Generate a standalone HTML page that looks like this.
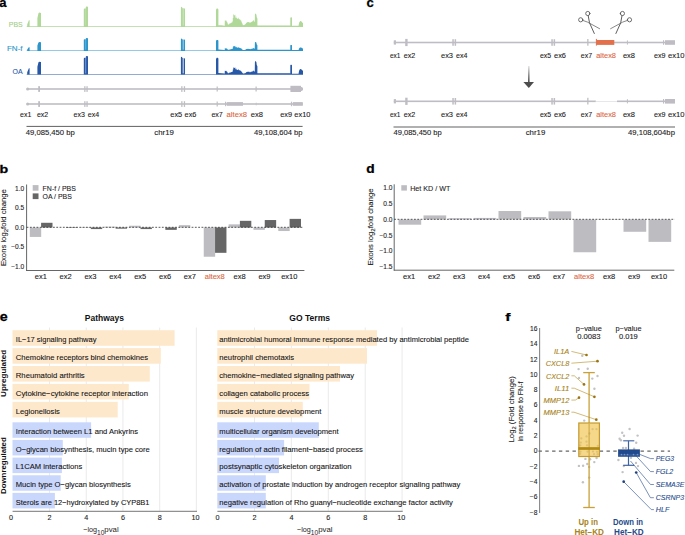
<!DOCTYPE html>
<html><head><meta charset="utf-8"><title>Figure</title>
<style>
html,body{margin:0;padding:0;background:#fff;width:685px;height:535px;overflow:hidden}
svg{display:block;font-family:"Liberation Sans", sans-serif}
</style></head>
<body><svg width="685" height="535" viewBox="0 0 685 535">
<rect width="685" height="535" fill="#fff"/>
<text transform="translate(-0.7,6.7) scale(1.0,1)" font-size="13" font-weight="bold" fill="#000" stroke="#000" stroke-width="0.25">a</text>
<text transform="translate(366.5,7.0) scale(1.0,1)" font-size="13" font-weight="bold" fill="#000" stroke="#000" stroke-width="0.25">c</text>
<text transform="translate(-0.5,172.5) scale(1.25,1)" font-size="11.4" font-weight="bold" fill="#000" stroke="#000" stroke-width="0.25">b</text>
<text transform="translate(366.3,172.5) scale(1.12,1)" font-size="12.3" font-weight="bold" fill="#000" stroke="#000" stroke-width="0.25">d</text>
<text transform="translate(-0.2,320.6) scale(1.08,1)" font-size="13.2" font-weight="bold" fill="#000" stroke="#000" stroke-width="0.25">e</text>
<text transform="translate(505.2,320.6) scale(1.45,1)" font-size="10.8" font-weight="bold" fill="#000" stroke="#000" stroke-width="0.25">f</text>
<path d="M26.7,26.90 L26.70,26.30 L27.20,26.30 L27.20,24.38 L29.00,19.90 L29.60,20.54 L29.60,26.30 L37.40,26.30 L37.40,18.08 L38.48,13.29 L39.38,12.60 L41.00,13.01 L41.00,26.30 L83.80,26.30 L83.80,9.19 L84.40,8.39 L85.70,8.39 L85.80,7.00 L86.30,6.40 L88.00,6.80 L88.00,26.30 L180.90,26.30 L180.90,7.39 L181.60,6.80 L182.30,7.39 L182.40,8.16 L183.80,8.36 L184.10,8.36 L185.00,8.75 L185.00,26.30 L216.00,26.30 L216.00,9.84 L216.72,8.60 L217.68,8.60 L218.40,9.49 L218.40,26.30 L218.40,25.13 L221.50,25.31 L224.60,25.67 L224.70,26.30 L224.80,20.40 L225.30,20.40 L225.30,20.83 L225.80,20.83 L225.80,20.30 L226.30,20.30 L226.30,21.27 L226.80,21.27 L226.80,21.91 L227.30,21.91 L227.30,23.27 L227.80,23.27 L227.80,24.50 L228.30,24.50 L228.30,24.44 L228.80,24.44 L228.80,24.22 L229.30,24.22 L229.30,23.52 L229.80,23.52 L229.80,23.50 L230.30,23.50 L230.30,23.33 L230.80,23.33 L230.80,22.90 L231.30,22.90 L231.30,22.39 L231.80,22.39 L231.80,22.47 L232.30,22.47 L232.30,21.56 L232.80,21.56 L232.80,17.93 L233.30,17.93 L233.30,14.37 L233.80,14.37 L233.80,15.11 L234.30,15.11 L234.30,15.38 L234.80,15.38 L234.80,14.76 L235.30,14.76 L235.30,17.82 L235.80,17.82 L235.80,16.47 L236.30,16.47 L236.30,17.92 L236.80,17.92 L236.80,18.49 L237.30,18.49 L237.30,18.85 L237.80,18.85 L237.80,18.67 L238.30,18.67 L238.30,17.82 L238.80,17.82 L238.80,19.37 L239.30,19.37 L239.30,19.22 L239.80,19.22 L239.80,19.53 L240.30,19.53 L240.30,20.22 L240.80,20.22 L240.80,20.51 L241.30,20.51 L241.30,21.83 L241.80,21.83 L241.80,22.92 L242.30,22.92 L242.30,24.22 L242.80,24.22 L242.80,24.96 L243.30,24.96 L243.30,25.29 L243.80,25.29 L243.80,25.10 L244.30,25.10 L244.30,24.72 L244.80,24.72 L244.80,24.44 L245.30,24.44 L245.30,24.06 L245.80,24.06 L245.80,23.18 L246.30,23.18 L246.30,22.66 L246.80,22.66 L246.80,22.52 L247.30,22.52 L247.30,22.04 L247.80,22.04 L247.80,22.20 L248.30,22.20 L248.30,21.98 L248.80,21.98 L248.80,22.21 L249.30,22.21 L249.30,22.69 L249.80,22.69 L249.80,22.14 L250.30,22.14 L250.30,22.80 L250.80,22.80 L250.80,22.27 L251.30,22.27 L251.30,21.65 L251.80,21.65 L251.80,21.89 L252.30,21.89 L252.30,20.94 L252.80,20.94 L252.80,21.13 L253.30,21.13 L253.30,19.89 L253.80,19.89 L253.80,20.76 L254.30,20.76 L254.30,21.97 L254.80,21.97 L254.80,21.14 L254.93,14.05 L255.58,13.40 L256.36,14.43 L256.75,17.27 L257.40,18.56 L257.40,26.30 L256.70,25.40 L290.20,25.40 L290.30,26.30 L290.30,17.93 L290.81,17.30 L291.49,17.30 L292.00,17.75 L292.00,26.30 L292.10,25.76 L298.60,25.76 L298.70,24.74 L299.34,22.14 L300.20,21.10 L301.28,21.36 L302.14,22.40 L303.00,22.92 L303.00,26.30 L303.00,26.30 L303,26.90 Z" fill="#b0d898"/>
<rect x="85.5" y="6.40" width="0.6" height="19.10" fill="#fff" fill-opacity="0.3"/>
<rect x="182.6" y="6.80" width="1.3" height="18.70" fill="#fff" fill-opacity="0.3"/>
<path d="M26.7,51.10 L26.70,50.50 L27.20,50.50 L27.20,49.48 L29.00,47.10 L29.60,47.44 L29.60,50.50 L37.40,50.50 L37.40,45.46 L38.48,42.52 L39.38,42.10 L41.00,42.35 L41.00,50.50 L83.80,50.50 L83.80,39.84 L84.40,39.34 L85.70,39.34 L85.80,38.47 L86.30,38.10 L88.00,38.35 L88.00,50.50 L180.90,50.50 L180.90,38.96 L181.60,38.60 L182.30,38.96 L182.40,39.43 L183.80,39.55 L184.10,39.55 L185.00,39.79 L185.00,50.50 L216.00,50.50 L216.00,40.73 L216.72,40.00 L217.68,40.00 L218.40,40.52 L218.40,50.50 L218.40,49.59 L221.50,49.73 L224.60,50.01 L224.70,50.50 L224.80,48.23 L225.30,48.23 L225.30,48.40 L225.80,48.40 L225.80,48.20 L226.30,48.20 L226.30,48.57 L226.80,48.57 L226.80,48.81 L227.30,48.81 L227.30,49.33 L227.80,49.33 L227.80,49.81 L228.30,49.81 L228.30,49.78 L228.80,49.78 L228.80,49.70 L229.30,49.70 L229.30,49.43 L229.80,49.43 L229.80,49.42 L230.30,49.42 L230.30,49.36 L230.80,49.36 L230.80,49.20 L231.30,49.20 L231.30,49.00 L231.80,49.00 L231.80,49.03 L232.30,49.03 L232.30,48.68 L232.80,48.68 L232.80,47.29 L233.30,47.29 L233.30,45.92 L233.80,45.92 L233.80,46.20 L234.30,46.20 L234.30,46.31 L234.80,46.31 L234.80,46.07 L235.30,46.07 L235.30,47.24 L235.80,47.24 L235.80,46.73 L236.30,46.73 L236.30,47.28 L236.80,47.28 L236.80,47.50 L237.30,47.50 L237.30,47.64 L237.80,47.64 L237.80,47.57 L238.30,47.57 L238.30,47.24 L238.80,47.24 L238.80,47.84 L239.30,47.84 L239.30,47.78 L239.80,47.78 L239.80,47.90 L240.30,47.90 L240.30,48.17 L240.80,48.17 L240.80,48.28 L241.30,48.28 L241.30,48.78 L241.80,48.78 L241.80,49.20 L242.30,49.20 L242.30,49.70 L242.80,49.70 L242.80,49.99 L243.30,49.99 L243.30,50.11 L243.80,50.11 L243.80,50.04 L244.30,50.04 L244.30,49.89 L244.80,49.89 L244.80,49.79 L245.30,49.79 L245.30,49.64 L245.80,49.64 L245.80,49.30 L246.30,49.30 L246.30,49.10 L246.80,49.10 L246.80,49.05 L247.30,49.05 L247.30,48.86 L247.80,48.86 L247.80,48.93 L248.30,48.93 L248.30,48.84 L248.80,48.84 L248.80,48.93 L249.30,48.93 L249.30,49.12 L249.80,49.12 L249.80,48.90 L250.30,48.90 L250.30,49.16 L250.80,49.16 L250.80,48.95 L251.30,48.95 L251.30,48.72 L251.80,48.72 L251.80,48.81 L252.30,48.81 L252.30,48.44 L252.80,48.44 L252.80,48.52 L253.30,48.52 L253.30,48.04 L253.80,48.04 L253.80,48.37 L254.30,48.37 L254.30,48.84 L254.80,48.84 L254.80,47.06 L254.93,42.33 L255.58,41.90 L256.36,42.59 L256.75,44.48 L257.40,45.34 L257.40,50.50 L256.70,49.80 L290.20,49.80 L290.30,50.50 L290.30,45.29 L290.81,44.90 L291.49,44.90 L292.00,45.18 L292.00,50.50 L292.10,50.08 L298.60,50.08 L298.70,49.57 L299.34,48.02 L300.20,47.40 L301.28,47.55 L302.14,48.17 L303.00,48.48 L303.00,50.50 L303.00,50.50 L303,51.10 Z" fill="#2b95cc"/>
<rect x="85.5" y="38.10" width="0.6" height="11.60" fill="#fff" fill-opacity="0.45"/>
<rect x="182.6" y="38.60" width="1.3" height="11.10" fill="#fff" fill-opacity="0.45"/>
<path d="M26.7,74.80 L26.70,74.20 L27.20,74.20 L27.20,72.34 L29.00,68.00 L29.60,68.62 L29.60,74.20 L37.40,74.20 L37.40,66.70 L38.48,62.33 L39.38,61.70 L41.00,62.08 L41.00,74.20 L83.80,74.20 L83.80,58.55 L84.40,57.82 L85.70,57.82 L85.80,56.55 L86.30,56.00 L88.00,56.36 L88.00,74.20 L180.90,74.20 L180.90,57.32 L181.60,56.80 L182.30,57.32 L182.40,58.02 L183.80,58.19 L184.10,58.19 L185.00,58.54 L185.00,74.20 L216.00,74.20 L216.00,58.95 L216.72,57.80 L217.68,57.80 L218.40,58.62 L218.40,74.20 L218.40,73.03 L221.50,73.21 L224.60,73.57 L224.70,74.20 L224.80,70.83 L225.30,70.83 L225.30,71.07 L225.80,71.07 L225.80,70.77 L226.30,70.77 L226.30,71.33 L226.80,71.33 L226.80,71.69 L227.30,71.69 L227.30,72.47 L227.80,72.47 L227.80,73.17 L228.30,73.17 L228.30,73.14 L228.80,73.14 L228.80,73.01 L229.30,73.01 L229.30,72.61 L229.80,72.61 L229.80,72.60 L230.30,72.60 L230.30,72.50 L230.80,72.50 L230.80,72.26 L231.30,72.26 L231.30,71.96 L231.80,71.96 L231.80,72.01 L232.30,72.01 L232.30,71.49 L232.80,71.49 L232.80,69.42 L233.30,69.42 L233.30,67.38 L233.80,67.38 L233.80,67.81 L234.30,67.81 L234.30,67.96 L234.80,67.96 L234.80,67.60 L235.30,67.60 L235.30,69.35 L235.80,69.35 L235.80,68.58 L236.30,68.58 L236.30,69.41 L236.80,69.41 L236.80,69.74 L237.30,69.74 L237.30,69.94 L237.80,69.94 L237.80,69.84 L238.30,69.84 L238.30,69.35 L238.80,69.35 L238.80,70.24 L239.30,70.24 L239.30,70.15 L239.80,70.15 L239.80,70.33 L240.30,70.33 L240.30,70.73 L240.80,70.73 L240.80,70.89 L241.30,70.89 L241.30,71.65 L241.80,71.65 L241.80,72.27 L242.30,72.27 L242.30,73.01 L242.80,73.01 L242.80,73.44 L243.30,73.44 L243.30,73.62 L243.80,73.62 L243.80,73.52 L244.30,73.52 L244.30,73.30 L244.80,73.30 L244.80,73.14 L245.30,73.14 L245.30,72.92 L245.80,72.92 L245.80,72.42 L246.30,72.42 L246.30,72.12 L246.80,72.12 L246.80,72.04 L247.30,72.04 L247.30,71.76 L247.80,71.76 L247.80,71.86 L248.30,71.86 L248.30,71.73 L248.80,71.73 L248.80,71.86 L249.30,71.86 L249.30,72.14 L249.80,72.14 L249.80,71.83 L250.30,71.83 L250.30,72.20 L250.80,72.20 L250.80,71.90 L251.30,71.90 L251.30,71.55 L251.80,71.55 L251.80,71.68 L252.30,71.68 L252.30,71.14 L252.80,71.14 L252.80,71.25 L253.30,71.25 L253.30,70.54 L253.80,70.54 L253.80,71.04 L254.30,71.04 L254.30,71.73 L254.80,71.73 L254.80,68.92 L254.93,61.66 L255.58,61.00 L256.36,62.06 L256.75,64.96 L257.40,66.28 L257.40,74.20 L256.70,73.30 L290.20,73.30 L290.30,74.20 L290.30,65.37 L290.81,64.70 L291.49,64.70 L292.00,65.17 L292.00,74.20 L292.10,73.66 L298.60,73.66 L298.70,72.64 L299.34,70.04 L300.20,69.00 L301.28,69.26 L302.14,70.30 L303.00,70.82 L303.00,74.20 L303.00,74.20 L303,74.80 Z" fill="#2758a8"/>
<rect x="85.5" y="56.00" width="0.6" height="17.40" fill="#fff" fill-opacity="0.65"/>
<rect x="182.6" y="56.80" width="1.3" height="16.60" fill="#fff" fill-opacity="0.65"/>
<text x="22.60" y="26.60" font-size="7.8" text-anchor="end" fill="#9fcd85" stroke="#9fcd85" stroke-width="0.1" textLength="13.80" lengthAdjust="spacingAndGlyphs">PBS</text>
<text x="22.60" y="50.50" font-size="7.8" text-anchor="end" fill="#2b95cc" stroke="#2b95cc" stroke-width="0.1" textLength="15.70" lengthAdjust="spacingAndGlyphs">FN-f</text>
<text x="22.60" y="74.40" font-size="7.8" text-anchor="end" fill="#2758a8" stroke="#2758a8" stroke-width="0.1" textLength="10.10" lengthAdjust="spacingAndGlyphs">OA</text>
<rect x="26.70" y="88.20" width="274.30" height="1.60" fill="#bfbdc3"/>
<circle cx="27.7" cy="89.00" r="1.55" fill="#bfbdc3"/>
<rect x="38.20" y="86.20" width="1.80" height="5.70" fill="#bfbdc3"/>
<rect x="84.20" y="86.20" width="1.30" height="5.70" fill="#bfbdc3"/>
<rect x="86.40" y="86.20" width="1.30" height="5.70" fill="#bfbdc3"/>
<rect x="181.20" y="86.20" width="1.30" height="5.70" fill="#bfbdc3"/>
<rect x="183.80" y="86.20" width="1.30" height="5.70" fill="#bfbdc3"/>
<rect x="216.60" y="86.50" width="1.20" height="5.00" fill="#bfbdc3"/>
<rect x="26.70" y="103.20" width="276.10" height="1.60" fill="#bfbdc3"/>
<circle cx="27.7" cy="104.00" r="1.55" fill="#bfbdc3"/>
<rect x="38.20" y="101.20" width="1.80" height="5.70" fill="#bfbdc3"/>
<rect x="84.20" y="101.20" width="1.30" height="5.70" fill="#bfbdc3"/>
<rect x="86.40" y="101.20" width="1.30" height="5.70" fill="#bfbdc3"/>
<rect x="181.20" y="101.20" width="1.30" height="5.70" fill="#bfbdc3"/>
<rect x="183.80" y="101.20" width="1.30" height="5.70" fill="#bfbdc3"/>
<rect x="216.60" y="101.50" width="1.20" height="5.00" fill="#bfbdc3"/>
<rect x="255.50" y="86.50" width="1.20" height="5.00" fill="#bfbdc3"/>
<rect x="290.40" y="85.80" width="10.60" height="6.20" fill="#bfbdc3"/>
<rect x="299" y="86.9" width="4" height="4" rx="1.6" fill="#bfbdc3"/>
<rect x="225.00" y="101.70" width="1.00" height="4.50" fill="#bfbdc3"/>
<rect x="226.60" y="102.10" width="16.40" height="3.70" fill="#bfbdc3"/>
<rect x="255.80" y="102.60" width="0.70" height="2.80" fill="#bfbdc3"/>
<rect x="290.90" y="101.70" width="1.20" height="4.50" fill="#bfbdc3"/>
<rect x="292.90" y="102.10" width="9.90" height="3.70" fill="#bfbdc3"/>
<text x="20.00" y="117.20" font-size="7.8" text-anchor="start" fill="#1c1c1c" stroke="#1c1c1c" stroke-width="0.1" textLength="11.30" lengthAdjust="spacingAndGlyphs">ex1</text>
<text x="37.00" y="117.20" font-size="7.8" text-anchor="start" fill="#1c1c1c" stroke="#1c1c1c" stroke-width="0.1" textLength="11.20" lengthAdjust="spacingAndGlyphs">ex2</text>
<text x="73.50" y="117.20" font-size="7.8" text-anchor="start" fill="#1c1c1c" stroke="#1c1c1c" stroke-width="0.1" textLength="11.30" lengthAdjust="spacingAndGlyphs">ex3</text>
<text x="87.80" y="117.20" font-size="7.8" text-anchor="start" fill="#1c1c1c" stroke="#1c1c1c" stroke-width="0.1" textLength="11.40" lengthAdjust="spacingAndGlyphs">ex4</text>
<text x="170.30" y="117.20" font-size="7.8" text-anchor="start" fill="#1c1c1c" stroke="#1c1c1c" stroke-width="0.1" textLength="11.90" lengthAdjust="spacingAndGlyphs">ex5</text>
<text x="184.60" y="117.20" font-size="7.8" text-anchor="start" fill="#1c1c1c" stroke="#1c1c1c" stroke-width="0.1" textLength="11.80" lengthAdjust="spacingAndGlyphs">ex6</text>
<text x="211.40" y="117.20" font-size="7.8" text-anchor="start" fill="#1c1c1c" stroke="#1c1c1c" stroke-width="0.1" textLength="11.40" lengthAdjust="spacingAndGlyphs">ex7</text>
<text x="226.60" y="117.20" font-size="7.8" text-anchor="start" fill="#dc6641" stroke="#dc6641" stroke-width="0.1" textLength="20.40" lengthAdjust="spacingAndGlyphs">altex8</text>
<text x="250.80" y="117.20" font-size="7.8" text-anchor="start" fill="#1c1c1c" stroke="#1c1c1c" stroke-width="0.1" textLength="12.20" lengthAdjust="spacingAndGlyphs">ex8</text>
<text x="280.20" y="117.20" font-size="7.8" text-anchor="start" fill="#1c1c1c" stroke="#1c1c1c" stroke-width="0.1" textLength="11.80" lengthAdjust="spacingAndGlyphs">ex9</text>
<text x="294.30" y="117.20" font-size="7.8" text-anchor="start" fill="#1c1c1c" stroke="#1c1c1c" stroke-width="0.1" textLength="16.10" lengthAdjust="spacingAndGlyphs">ex10</text>
<line x1="26.50" y1="126.40" x2="302.60" y2="126.40" stroke="#444" stroke-width="0.85"/>
<text x="25.80" y="134.80" font-size="7" text-anchor="start" fill="#1c1c1c" stroke="#1c1c1c" stroke-width="0.1" textLength="48.90" lengthAdjust="spacingAndGlyphs">49,085,450 bp</text>
<text x="154.30" y="134.80" font-size="7" text-anchor="start" fill="#1c1c1c" stroke="#1c1c1c" stroke-width="0.1" textLength="19.60" lengthAdjust="spacingAndGlyphs">chr19</text>
<text x="254.00" y="134.80" font-size="7" text-anchor="start" fill="#1c1c1c" stroke="#1c1c1c" stroke-width="0.1" textLength="48.50" lengthAdjust="spacingAndGlyphs">49,108,604 bp</text>
<rect x="393.80" y="41.70" width="271.20" height="1.60" fill="#bfbdc3"/>
<rect x="393.80" y="40.30" width="2.20" height="4.30" fill="#bfbdc3"/>
<rect x="405.20" y="38.90" width="2.40" height="7.20" fill="#bfbdc3"/>
<rect x="452.30" y="39.20" width="1.50" height="6.60" fill="#bfbdc3"/>
<rect x="454.60" y="39.20" width="1.50" height="6.60" fill="#bfbdc3"/>
<rect x="551.30" y="39.20" width="1.50" height="6.60" fill="#bfbdc3"/>
<rect x="553.60" y="39.20" width="1.50" height="6.60" fill="#bfbdc3"/>
<rect x="587.20" y="39.00" width="1.30" height="6.70" fill="#bfbdc3"/>
<rect x="595.90" y="38.90" width="1.00" height="6.70" fill="#e2704d"/>
<rect x="596.50" y="40.00" width="17.80" height="4.90" fill="#e2704d"/>
<rect x="626.90" y="40.40" width="1.00" height="4.20" fill="#bfbdc3"/>
<rect x="663.00" y="40.20" width="1.10" height="4.60" fill="#bfbdc3"/>
<rect x="665.00" y="40.20" width="10.00" height="4.60" fill="#bfbdc3"/>
<rect x="393.80" y="100.50" width="202.00" height="1.60" fill="#bfbdc3"/>
<rect x="595.80" y="101.00" width="21.20" height="0.60" fill="#d8d7db"/>
<rect x="617.00" y="100.50" width="48.00" height="1.60" fill="#bfbdc3"/>
<rect x="393.80" y="99.10" width="2.20" height="4.30" fill="#bfbdc3"/>
<rect x="405.20" y="97.70" width="2.40" height="7.20" fill="#bfbdc3"/>
<rect x="452.30" y="98.00" width="1.50" height="6.60" fill="#bfbdc3"/>
<rect x="454.60" y="98.00" width="1.50" height="6.60" fill="#bfbdc3"/>
<rect x="551.30" y="98.00" width="1.50" height="6.60" fill="#bfbdc3"/>
<rect x="553.60" y="98.00" width="1.50" height="6.60" fill="#bfbdc3"/>
<rect x="587.20" y="97.80" width="1.30" height="6.70" fill="#bfbdc3"/>
<rect x="626.90" y="99.20" width="1.00" height="4.20" fill="#bfbdc3"/>
<rect x="663.00" y="99.00" width="1.10" height="4.60" fill="#bfbdc3"/>
<rect x="665.00" y="99.00" width="10.00" height="4.60" fill="#bfbdc3"/>
<text x="389.90" y="57.90" font-size="7.8" text-anchor="start" fill="#1c1c1c" stroke="#1c1c1c" stroke-width="0.1" textLength="10.50" lengthAdjust="spacingAndGlyphs">ex1</text>
<text x="403.70" y="57.90" font-size="7.8" text-anchor="start" fill="#1c1c1c" stroke="#1c1c1c" stroke-width="0.1" textLength="11.50" lengthAdjust="spacingAndGlyphs">ex2</text>
<text x="441.00" y="57.90" font-size="7.8" text-anchor="start" fill="#1c1c1c" stroke="#1c1c1c" stroke-width="0.1" textLength="12.00" lengthAdjust="spacingAndGlyphs">ex3</text>
<text x="456.00" y="57.90" font-size="7.8" text-anchor="start" fill="#1c1c1c" stroke="#1c1c1c" stroke-width="0.1" textLength="11.40" lengthAdjust="spacingAndGlyphs">ex4</text>
<text x="540.00" y="57.90" font-size="7.8" text-anchor="start" fill="#1c1c1c" stroke="#1c1c1c" stroke-width="0.1" textLength="11.20" lengthAdjust="spacingAndGlyphs">ex5</text>
<text x="554.00" y="57.90" font-size="7.8" text-anchor="start" fill="#1c1c1c" stroke="#1c1c1c" stroke-width="0.1" textLength="12.00" lengthAdjust="spacingAndGlyphs">ex6</text>
<text x="580.80" y="57.90" font-size="7.8" text-anchor="start" fill="#1c1c1c" stroke="#1c1c1c" stroke-width="0.1" textLength="11.30" lengthAdjust="spacingAndGlyphs">ex7</text>
<text x="596.20" y="57.90" font-size="7.8" text-anchor="start" fill="#dc6641" stroke="#dc6641" stroke-width="0.1" textLength="19.80" lengthAdjust="spacingAndGlyphs">altex8</text>
<text x="622.90" y="57.90" font-size="7.8" text-anchor="start" fill="#1c1c1c" stroke="#1c1c1c" stroke-width="0.1" textLength="12.10" lengthAdjust="spacingAndGlyphs">ex8</text>
<text x="654.00" y="57.90" font-size="7.8" text-anchor="start" fill="#1c1c1c" stroke="#1c1c1c" stroke-width="0.1" textLength="11.50" lengthAdjust="spacingAndGlyphs">ex9</text>
<text x="667.90" y="57.90" font-size="7.8" text-anchor="start" fill="#1c1c1c" stroke="#1c1c1c" stroke-width="0.1" textLength="16.60" lengthAdjust="spacingAndGlyphs">ex10</text>
<text x="389.90" y="117.40" font-size="7.8" text-anchor="start" fill="#1c1c1c" stroke="#1c1c1c" stroke-width="0.1" textLength="10.50" lengthAdjust="spacingAndGlyphs">ex1</text>
<text x="403.70" y="117.40" font-size="7.8" text-anchor="start" fill="#1c1c1c" stroke="#1c1c1c" stroke-width="0.1" textLength="11.50" lengthAdjust="spacingAndGlyphs">ex2</text>
<text x="441.00" y="117.40" font-size="7.8" text-anchor="start" fill="#1c1c1c" stroke="#1c1c1c" stroke-width="0.1" textLength="12.00" lengthAdjust="spacingAndGlyphs">ex3</text>
<text x="456.00" y="117.40" font-size="7.8" text-anchor="start" fill="#1c1c1c" stroke="#1c1c1c" stroke-width="0.1" textLength="11.40" lengthAdjust="spacingAndGlyphs">ex4</text>
<text x="540.00" y="117.40" font-size="7.8" text-anchor="start" fill="#1c1c1c" stroke="#1c1c1c" stroke-width="0.1" textLength="11.20" lengthAdjust="spacingAndGlyphs">ex5</text>
<text x="554.00" y="117.40" font-size="7.8" text-anchor="start" fill="#1c1c1c" stroke="#1c1c1c" stroke-width="0.1" textLength="12.00" lengthAdjust="spacingAndGlyphs">ex6</text>
<text x="580.80" y="117.40" font-size="7.8" text-anchor="start" fill="#1c1c1c" stroke="#1c1c1c" stroke-width="0.1" textLength="11.30" lengthAdjust="spacingAndGlyphs">ex7</text>
<text x="596.20" y="117.40" font-size="7.8" text-anchor="start" fill="#dc6641" stroke="#dc6641" stroke-width="0.1" textLength="19.80" lengthAdjust="spacingAndGlyphs">altex8</text>
<text x="622.90" y="117.40" font-size="7.8" text-anchor="start" fill="#1c1c1c" stroke="#1c1c1c" stroke-width="0.1" textLength="12.10" lengthAdjust="spacingAndGlyphs">ex8</text>
<text x="654.00" y="117.40" font-size="7.8" text-anchor="start" fill="#1c1c1c" stroke="#1c1c1c" stroke-width="0.1" textLength="11.50" lengthAdjust="spacingAndGlyphs">ex9</text>
<text x="667.90" y="117.40" font-size="7.8" text-anchor="start" fill="#1c1c1c" stroke="#1c1c1c" stroke-width="0.1" textLength="16.60" lengthAdjust="spacingAndGlyphs">ex10</text>
<line x1="393.50" y1="127.00" x2="675.00" y2="127.00" stroke="#444" stroke-width="0.85"/>
<text x="393.50" y="134.90" font-size="7" text-anchor="start" fill="#1c1c1c" stroke="#1c1c1c" stroke-width="0.1" textLength="48.20" lengthAdjust="spacingAndGlyphs">49,085,450 bp</text>
<text x="525.70" y="134.90" font-size="7" text-anchor="start" fill="#1c1c1c" stroke="#1c1c1c" stroke-width="0.1" textLength="19.60" lengthAdjust="spacingAndGlyphs">chr19</text>
<text x="628.00" y="134.90" font-size="7" text-anchor="start" fill="#1c1c1c" stroke="#1c1c1c" stroke-width="0.1" textLength="46.90" lengthAdjust="spacingAndGlyphs">49,108,604bp</text>
<g stroke="#555" fill="none" stroke-linecap="round"><circle cx="580.7" cy="19.8" r="2.1" stroke-width="0.85"/><circle cx="587.8" cy="13.5" r="2.1" stroke-width="0.85"/><path d="M582.8,20.4 L587.5,22.1 L599.6,28.7" stroke-width="0.7"/><path d="M588.2,15.6 L589.5,22.8 L594.3,33.5" stroke-width="0.95"/></g>
<g stroke="#555" fill="none" stroke-linecap="round" transform="translate(1210.2,0) scale(-1,1)"><circle cx="580.7" cy="19.8" r="2.1" stroke-width="0.85"/><circle cx="587.8" cy="13.5" r="2.1" stroke-width="0.85"/><path d="M582.8,20.4 L587.5,22.1 L599.6,28.7" stroke-width="0.7"/><path d="M588.2,15.6 L589.5,22.8 L594.3,33.5" stroke-width="0.95"/></g>
<defs><linearGradient id="ag" x1="0" y1="0" x2="0" y2="1"><stop offset="0" stop-color="#e6e6e6"/><stop offset="0.6" stop-color="#888"/><stop offset="1" stop-color="#4d4d4d"/></linearGradient></defs>
<rect x="528.00" y="66.00" width="1.60" height="16.50" fill="url(#ag)"/>
<path d="M523.4,82.0 L534.0,82.0 L528.8,88.0 Z" fill="#4d4d4d"/>
<line x1="26.60" y1="184.50" x2="26.60" y2="270.90" stroke="#555" stroke-width="0.9"/>
<line x1="26.20" y1="270.50" x2="304.40" y2="270.50" stroke="#555" stroke-width="0.9"/>
<text x="24.20" y="190.55" font-size="6.6" text-anchor="end" fill="#1c1c1c" stroke="#1c1c1c" stroke-width="0.1">1.0</text>
<text x="24.20" y="210.18" font-size="6.6" text-anchor="end" fill="#1c1c1c" stroke="#1c1c1c" stroke-width="0.1">0.5</text>
<text x="24.20" y="229.80" font-size="6.6" text-anchor="end" fill="#1c1c1c" stroke="#1c1c1c" stroke-width="0.1">0.0</text>
<text x="24.20" y="249.43" font-size="6.6" text-anchor="end" fill="#1c1c1c" stroke="#1c1c1c" stroke-width="0.1">−0.5</text>
<text x="24.20" y="269.05" font-size="6.6" text-anchor="end" fill="#1c1c1c" stroke="#1c1c1c" stroke-width="0.1">−1.0</text>
<rect x="29.80" y="227.50" width="11.40" height="9.42" fill="#bdbcc1"/>
<rect x="41.10" y="222.79" width="11.40" height="4.71" fill="#666666"/>
<text x="40.80" y="279.20" font-size="7.5" text-anchor="middle" fill="#1c1c1c" stroke="#1c1c1c" stroke-width="0.1">ex1</text>
<rect x="65.95" y="227.50" width="11.40" height="0.47" fill="#666666"/>
<text x="65.65" y="279.20" font-size="7.5" text-anchor="middle" fill="#1c1c1c" stroke="#1c1c1c" stroke-width="0.1">ex2</text>
<rect x="79.50" y="227.03" width="11.40" height="0.47" fill="#bdbcc1"/>
<rect x="90.80" y="227.50" width="11.40" height="1.57" fill="#666666"/>
<text x="90.50" y="279.20" font-size="7.5" text-anchor="middle" fill="#1c1c1c" stroke="#1c1c1c" stroke-width="0.1">ex3</text>
<rect x="104.35" y="226.72" width="11.40" height="0.78" fill="#bdbcc1"/>
<rect x="115.65" y="227.50" width="11.40" height="1.18" fill="#666666"/>
<text x="115.35" y="279.20" font-size="7.5" text-anchor="middle" fill="#1c1c1c" stroke="#1c1c1c" stroke-width="0.1">ex4</text>
<rect x="129.20" y="225.73" width="11.40" height="1.77" fill="#bdbcc1"/>
<rect x="140.50" y="227.50" width="11.40" height="1.57" fill="#666666"/>
<text x="140.20" y="279.20" font-size="7.5" text-anchor="middle" fill="#1c1c1c" stroke="#1c1c1c" stroke-width="0.1">ex5</text>
<rect x="165.35" y="227.50" width="11.40" height="2.35" fill="#666666"/>
<text x="165.05" y="279.20" font-size="7.5" text-anchor="middle" fill="#1c1c1c" stroke="#1c1c1c" stroke-width="0.1">ex6</text>
<rect x="178.90" y="225.15" width="11.40" height="2.35" fill="#bdbcc1"/>
<text x="189.90" y="279.20" font-size="7.5" text-anchor="middle" fill="#1c1c1c" stroke="#1c1c1c" stroke-width="0.1">ex7</text>
<rect x="203.75" y="227.50" width="11.40" height="29.24" fill="#bdbcc1"/>
<rect x="215.05" y="227.50" width="11.40" height="25.32" fill="#666666"/>
<text x="214.75" y="279.20" font-size="7.5" text-anchor="middle" fill="#dc6641" stroke="#dc6641" stroke-width="0.1">altex8</text>
<rect x="228.60" y="224.36" width="11.40" height="3.14" fill="#bdbcc1"/>
<rect x="239.90" y="220.83" width="11.40" height="6.67" fill="#666666"/>
<text x="239.60" y="279.20" font-size="7.5" text-anchor="middle" fill="#1c1c1c" stroke="#1c1c1c" stroke-width="0.1">ex8</text>
<rect x="253.45" y="227.50" width="11.40" height="2.35" fill="#bdbcc1"/>
<rect x="264.75" y="220.04" width="11.40" height="7.46" fill="#666666"/>
<text x="264.45" y="279.20" font-size="7.5" text-anchor="middle" fill="#1c1c1c" stroke="#1c1c1c" stroke-width="0.1">ex9</text>
<rect x="278.30" y="227.50" width="11.40" height="3.53" fill="#bdbcc1"/>
<rect x="289.60" y="218.87" width="11.40" height="8.63" fill="#666666"/>
<text x="289.30" y="279.20" font-size="7.5" text-anchor="middle" fill="#1c1c1c" stroke="#1c1c1c" stroke-width="0.1">ex10</text>
<line x1="26.60" y1="227.30" x2="302.80" y2="227.30" stroke="#222" stroke-width="0.75" stroke-dasharray="1.8,1.5"/>
<rect x="32.70" y="185.10" width="5.80" height="5.60" fill="#bdbcc1"/>
<rect x="32.70" y="193.40" width="5.80" height="5.70" fill="#666666"/>
<text x="42.60" y="190.60" font-size="7.6" text-anchor="start" fill="#1c1c1c" stroke="#1c1c1c" stroke-width="0.1" textLength="33.30" lengthAdjust="spacingAndGlyphs">FN-f / PBS</text>
<text x="42.60" y="199.00" font-size="7.6" text-anchor="start" fill="#1c1c1c" stroke="#1c1c1c" stroke-width="0.1" textLength="29.20" lengthAdjust="spacingAndGlyphs">OA / PBS</text>
<text transform="translate(6.4,266.1) rotate(-90)" font-size="7.7" fill="#1c1c1c" stroke="#1c1c1c" stroke-width="0.1">Exons log<tspan font-size="6.2" dy="1.8">2</tspan><tspan dy="-1.8">fold change</tspan></text>
<line x1="394.20" y1="184.30" x2="394.20" y2="270.60" stroke="#555" stroke-width="0.9"/>
<line x1="393.80" y1="270.20" x2="674.30" y2="270.20" stroke="#555" stroke-width="0.9"/>
<text x="392.50" y="190.30" font-size="6.6" text-anchor="end" fill="#1c1c1c" stroke="#1c1c1c" stroke-width="0.1">1.0</text>
<text x="392.50" y="206.05" font-size="6.6" text-anchor="end" fill="#1c1c1c" stroke="#1c1c1c" stroke-width="0.1">0.5</text>
<text x="392.50" y="221.80" font-size="6.6" text-anchor="end" fill="#1c1c1c" stroke="#1c1c1c" stroke-width="0.1">0.0</text>
<text x="392.50" y="237.55" font-size="6.6" text-anchor="end" fill="#1c1c1c" stroke="#1c1c1c" stroke-width="0.1">−0.5</text>
<text x="392.50" y="253.30" font-size="6.6" text-anchor="end" fill="#1c1c1c" stroke="#1c1c1c" stroke-width="0.1">−1.0</text>
<text x="392.50" y="269.05" font-size="6.6" text-anchor="end" fill="#1c1c1c" stroke="#1c1c1c" stroke-width="0.1">−1.5</text>
<rect x="398.50" y="219.50" width="22.70" height="5.20" fill="#bdbcc1"/>
<text x="409.10" y="279.20" font-size="7.5" text-anchor="middle" fill="#1c1c1c" stroke="#1c1c1c" stroke-width="0.1">ex1</text>
<rect x="423.50" y="215.41" width="22.70" height="4.09" fill="#bdbcc1"/>
<text x="434.10" y="279.20" font-size="7.5" text-anchor="middle" fill="#1c1c1c" stroke="#1c1c1c" stroke-width="0.1">ex2</text>
<rect x="448.50" y="218.24" width="22.70" height="1.26" fill="#bdbcc1"/>
<text x="459.10" y="279.20" font-size="7.5" text-anchor="middle" fill="#1c1c1c" stroke="#1c1c1c" stroke-width="0.1">ex3</text>
<rect x="473.50" y="217.93" width="22.70" height="1.57" fill="#bdbcc1"/>
<text x="484.10" y="279.20" font-size="7.5" text-anchor="middle" fill="#1c1c1c" stroke="#1c1c1c" stroke-width="0.1">ex4</text>
<rect x="498.50" y="211.00" width="22.70" height="8.50" fill="#bdbcc1"/>
<text x="509.10" y="279.20" font-size="7.5" text-anchor="middle" fill="#1c1c1c" stroke="#1c1c1c" stroke-width="0.1">ex5</text>
<rect x="523.50" y="216.98" width="22.70" height="2.52" fill="#bdbcc1"/>
<text x="534.10" y="279.20" font-size="7.5" text-anchor="middle" fill="#1c1c1c" stroke="#1c1c1c" stroke-width="0.1">ex6</text>
<rect x="548.50" y="211.31" width="22.70" height="8.19" fill="#bdbcc1"/>
<text x="559.10" y="279.20" font-size="7.5" text-anchor="middle" fill="#1c1c1c" stroke="#1c1c1c" stroke-width="0.1">ex7</text>
<rect x="573.50" y="219.50" width="22.70" height="32.76" fill="#bdbcc1"/>
<text x="584.10" y="279.20" font-size="7.5" text-anchor="middle" fill="#dc6641" stroke="#dc6641" stroke-width="0.1">altex8</text>
<rect x="598.50" y="219.50" width="22.70" height="0.38" fill="#bdbcc1"/>
<text x="609.10" y="279.20" font-size="7.5" text-anchor="middle" fill="#1c1c1c" stroke="#1c1c1c" stroke-width="0.1">ex8</text>
<rect x="623.50" y="219.50" width="22.70" height="12.28" fill="#bdbcc1"/>
<text x="634.10" y="279.20" font-size="7.5" text-anchor="middle" fill="#1c1c1c" stroke="#1c1c1c" stroke-width="0.1">ex9</text>
<rect x="648.50" y="219.50" width="22.70" height="22.37" fill="#bdbcc1"/>
<text x="659.10" y="279.20" font-size="7.5" text-anchor="middle" fill="#1c1c1c" stroke="#1c1c1c" stroke-width="0.1">ex10</text>
<line x1="394.20" y1="219.30" x2="674.80" y2="219.30" stroke="#222" stroke-width="0.75" stroke-dasharray="1.8,1.5"/>
<rect x="401.30" y="185.20" width="5.60" height="5.40" fill="#bdbcc1"/>
<text x="410.20" y="190.60" font-size="7.6" text-anchor="start" fill="#1c1c1c" stroke="#1c1c1c" stroke-width="0.1" textLength="40.20" lengthAdjust="spacingAndGlyphs">Het KD / WT</text>
<text transform="translate(372.8,265.5) rotate(-90)" font-size="7.7" fill="#1c1c1c" stroke="#1c1c1c" stroke-width="0.1">Exons log<tspan font-size="6.2" dy="1.8">2</tspan><tspan dy="-1.8">fold change</tspan></text>
<line x1="49.52" y1="327.50" x2="49.52" y2="511.30" stroke="#e8e8e8" stroke-width="0.9"/>
<line x1="86.24" y1="327.50" x2="86.24" y2="511.30" stroke="#e8e8e8" stroke-width="0.9"/>
<line x1="122.96" y1="327.50" x2="122.96" y2="511.30" stroke="#e8e8e8" stroke-width="0.9"/>
<line x1="159.68" y1="327.50" x2="159.68" y2="511.30" stroke="#e8e8e8" stroke-width="0.9"/>
<line x1="196.40" y1="327.50" x2="196.40" y2="511.30" stroke="#e8e8e8" stroke-width="0.9"/>
<text x="84.80" y="320.90" font-size="8.9" text-anchor="start" fill="#111" font-weight="bold" textLength="39.20" lengthAdjust="spacingAndGlyphs">Pathways</text>
<rect x="12.50" y="330.20" width="162.10" height="15.60" fill="#fee8cb"/>
<text x="15.80" y="341.90" font-size="8.1" text-anchor="start" fill="#141414" stroke="#141414" stroke-width="0.1" textLength="80.60" lengthAdjust="spacingAndGlyphs">IL−17 signaling pathway</text>
<rect x="12.50" y="348.10" width="148.30" height="15.60" fill="#fee8cb"/>
<text x="15.80" y="359.80" font-size="8.1" text-anchor="start" fill="#141414" stroke="#141414" stroke-width="0.1" textLength="132.20" lengthAdjust="spacingAndGlyphs">Chemokine receptors bind chemokines</text>
<rect x="12.50" y="366.00" width="137.30" height="15.60" fill="#fee8cb"/>
<text x="15.80" y="377.70" font-size="8.1" text-anchor="start" fill="#141414" stroke="#141414" stroke-width="0.1" textLength="68.90" lengthAdjust="spacingAndGlyphs">Rheumatoid arthritis</text>
<rect x="12.50" y="383.90" width="116.30" height="15.60" fill="#fee8cb"/>
<text x="15.80" y="395.60" font-size="8.1" text-anchor="start" fill="#141414" stroke="#141414" stroke-width="0.1" textLength="132.20" lengthAdjust="spacingAndGlyphs">Cytokine−cytokine receptor interaction</text>
<rect x="12.50" y="401.80" width="105.20" height="15.60" fill="#fee8cb"/>
<text x="15.80" y="413.50" font-size="8.1" text-anchor="start" fill="#141414" stroke="#141414" stroke-width="0.1" textLength="44.10" lengthAdjust="spacingAndGlyphs">Legionellosis</text>
<rect x="12.50" y="422.30" width="78.60" height="15.50" fill="#cad7fc"/>
<text x="15.80" y="434.00" font-size="8.1" text-anchor="start" fill="#141414" stroke="#141414" stroke-width="0.1" textLength="122.30" lengthAdjust="spacingAndGlyphs">Interaction between L1 and Ankyrins</text>
<rect x="12.50" y="439.95" width="50.30" height="15.50" fill="#cad7fc"/>
<text x="15.80" y="451.65" font-size="8.1" text-anchor="start" fill="#141414" stroke="#141414" stroke-width="0.1" textLength="134.00" lengthAdjust="spacingAndGlyphs">O−glycan biosynthesis, mucin type core</text>
<rect x="12.50" y="457.60" width="49.40" height="15.50" fill="#cad7fc"/>
<text x="15.80" y="469.30" font-size="8.1" text-anchor="start" fill="#141414" stroke="#141414" stroke-width="0.1" textLength="66.50" lengthAdjust="spacingAndGlyphs">L1CAM interactions</text>
<rect x="12.50" y="475.25" width="48.20" height="15.50" fill="#cad7fc"/>
<text x="15.80" y="486.95" font-size="8.1" text-anchor="start" fill="#141414" stroke="#141414" stroke-width="0.1" textLength="115.00" lengthAdjust="spacingAndGlyphs">Mucin type O−glycan biosynthesis</text>
<rect x="12.50" y="492.90" width="42.40" height="15.50" fill="#cad7fc"/>
<text x="15.80" y="504.60" font-size="8.1" text-anchor="start" fill="#141414" stroke="#141414" stroke-width="0.1" textLength="133.70" lengthAdjust="spacingAndGlyphs">Sterols are 12−hydroxylated by CYP8B1</text>
<line x1="12.60" y1="511.30" x2="197.00" y2="511.30" stroke="#666" stroke-width="0.9"/>
<text x="10.90" y="520.40" font-size="7.2" text-anchor="middle" fill="#1c1c1c" stroke="#1c1c1c" stroke-width="0.1">0</text>
<text x="49.52" y="520.40" font-size="7.2" text-anchor="middle" fill="#1c1c1c" stroke="#1c1c1c" stroke-width="0.1">2</text>
<text x="86.24" y="520.40" font-size="7.2" text-anchor="middle" fill="#1c1c1c" stroke="#1c1c1c" stroke-width="0.1">4</text>
<text x="122.96" y="520.40" font-size="7.2" text-anchor="middle" fill="#1c1c1c" stroke="#1c1c1c" stroke-width="0.1">6</text>
<text x="159.68" y="520.40" font-size="7.2" text-anchor="middle" fill="#1c1c1c" stroke="#1c1c1c" stroke-width="0.1">8</text>
<text x="195.60" y="520.40" font-size="7.2" text-anchor="middle" fill="#1c1c1c" stroke="#1c1c1c" stroke-width="0.1">10</text>
<text x="83.20" y="532.4" font-size="7.8" fill="#1c1c1c"><tspan textLength="13.80" lengthAdjust="spacingAndGlyphs">−log</tspan><tspan font-size="6.6" dy="2.4">10</tspan><tspan dy="-2.4">pval</tspan></text>
<line x1="254.50" y1="327.50" x2="254.50" y2="511.30" stroke="#e8e8e8" stroke-width="0.9"/>
<line x1="291.40" y1="327.50" x2="291.40" y2="511.30" stroke="#e8e8e8" stroke-width="0.9"/>
<line x1="328.30" y1="327.50" x2="328.30" y2="511.30" stroke="#e8e8e8" stroke-width="0.9"/>
<line x1="365.20" y1="327.50" x2="365.20" y2="511.30" stroke="#e8e8e8" stroke-width="0.9"/>
<line x1="402.10" y1="327.50" x2="402.10" y2="511.30" stroke="#e8e8e8" stroke-width="0.9"/>
<text x="289.30" y="320.90" font-size="8.9" text-anchor="start" fill="#111" font-weight="bold" textLength="40.70" lengthAdjust="spacingAndGlyphs">GO Terms</text>
<rect x="217.30" y="330.20" width="159.70" height="15.60" fill="#fee8cb"/>
<text x="219.30" y="341.90" font-size="8.1" text-anchor="start" fill="#141414" stroke="#141414" stroke-width="0.1" textLength="249.70" lengthAdjust="spacingAndGlyphs">antimicrobial humoral immune response mediated by antimicrobial peptide</text>
<rect x="217.30" y="348.10" width="149.70" height="15.60" fill="#fee8cb"/>
<text x="219.30" y="359.80" font-size="8.1" text-anchor="start" fill="#141414" stroke="#141414" stroke-width="0.1" textLength="74.80" lengthAdjust="spacingAndGlyphs">neutrophil chemotaxis</text>
<rect x="217.30" y="366.00" width="122.70" height="15.60" fill="#fee8cb"/>
<text x="219.30" y="377.70" font-size="8.1" text-anchor="start" fill="#141414" stroke="#141414" stroke-width="0.1" textLength="134.80" lengthAdjust="spacingAndGlyphs">chemokine−mediated signaling pathway</text>
<rect x="217.30" y="383.90" width="92.20" height="15.60" fill="#fee8cb"/>
<text x="219.30" y="395.60" font-size="8.1" text-anchor="start" fill="#141414" stroke="#141414" stroke-width="0.1" textLength="89.90" lengthAdjust="spacingAndGlyphs">collagen catabolic process</text>
<rect x="217.30" y="401.80" width="85.50" height="15.60" fill="#fee8cb"/>
<text x="219.30" y="413.50" font-size="8.1" text-anchor="start" fill="#141414" stroke="#141414" stroke-width="0.1" textLength="102.10" lengthAdjust="spacingAndGlyphs">muscle structure development</text>
<rect x="217.30" y="422.30" width="101.50" height="15.50" fill="#cad7fc"/>
<text x="219.30" y="434.00" font-size="8.1" text-anchor="start" fill="#141414" stroke="#141414" stroke-width="0.1" textLength="119.40" lengthAdjust="spacingAndGlyphs">multicellular organism development</text>
<rect x="217.30" y="439.95" width="66.80" height="15.50" fill="#cad7fc"/>
<text x="219.30" y="451.65" font-size="8.1" text-anchor="start" fill="#141414" stroke="#141414" stroke-width="0.1" textLength="143.50" lengthAdjust="spacingAndGlyphs">regulation of actin filament−based process</text>
<rect x="217.30" y="457.60" width="61.70" height="15.50" fill="#cad7fc"/>
<text x="219.30" y="469.30" font-size="8.1" text-anchor="start" fill="#141414" stroke="#141414" stroke-width="0.1" textLength="132.30" lengthAdjust="spacingAndGlyphs">postsynaptic cytoskeleton organization</text>
<rect x="217.30" y="475.25" width="48.50" height="15.50" fill="#cad7fc"/>
<text x="219.30" y="486.95" font-size="8.1" text-anchor="start" fill="#141414" stroke="#141414" stroke-width="0.1" textLength="241.00" lengthAdjust="spacingAndGlyphs">activation of prostate induction by androgen receptor signaling pathway</text>
<rect x="217.30" y="492.90" width="48.50" height="15.50" fill="#cad7fc"/>
<text x="219.30" y="504.60" font-size="8.1" text-anchor="start" fill="#141414" stroke="#141414" stroke-width="0.1" textLength="233.60" lengthAdjust="spacingAndGlyphs">negative regulation of Rho guanyl−nucleotide exchange factor activity</text>
<line x1="217.40" y1="511.30" x2="402.70" y2="511.30" stroke="#666" stroke-width="0.9"/>
<text x="217.60" y="520.40" font-size="7.2" text-anchor="middle" fill="#1c1c1c" stroke="#1c1c1c" stroke-width="0.1">0</text>
<text x="254.50" y="520.40" font-size="7.2" text-anchor="middle" fill="#1c1c1c" stroke="#1c1c1c" stroke-width="0.1">2</text>
<text x="291.40" y="520.40" font-size="7.2" text-anchor="middle" fill="#1c1c1c" stroke="#1c1c1c" stroke-width="0.1">4</text>
<text x="328.30" y="520.40" font-size="7.2" text-anchor="middle" fill="#1c1c1c" stroke="#1c1c1c" stroke-width="0.1">6</text>
<text x="365.20" y="520.40" font-size="7.2" text-anchor="middle" fill="#1c1c1c" stroke="#1c1c1c" stroke-width="0.1">8</text>
<text x="401.30" y="520.40" font-size="7.2" text-anchor="middle" fill="#1c1c1c" stroke="#1c1c1c" stroke-width="0.1">10</text>
<text x="297.00" y="532.4" font-size="7.8" fill="#1c1c1c"><tspan textLength="13.80" lengthAdjust="spacingAndGlyphs">−log</tspan><tspan font-size="6.6" dy="2.4">10</tspan><tspan dy="-2.4">pval</tspan></text>
<text transform="translate(6.0,373.35) rotate(-90)" font-size="8.1" font-weight="bold" text-anchor="middle" fill="#111" textLength="47.1" lengthAdjust="spacingAndGlyphs">Upregulated</text>
<text transform="translate(6.0,465.6) rotate(-90)" font-size="8.1" font-weight="bold" text-anchor="middle" fill="#111" textLength="56.8" lengthAdjust="spacingAndGlyphs">Downregulated</text>
<line x1="539.60" y1="328.00" x2="539.60" y2="512.90" stroke="#888" stroke-width="1.1"/>
<text x="537.40" y="330.90" font-size="6.7" text-anchor="end" fill="#1c1c1c" stroke="#1c1c1c" stroke-width="0.1">16</text>
<text x="537.40" y="346.20" font-size="6.7" text-anchor="end" fill="#1c1c1c" stroke="#1c1c1c" stroke-width="0.1">14</text>
<text x="537.40" y="361.50" font-size="6.7" text-anchor="end" fill="#1c1c1c" stroke="#1c1c1c" stroke-width="0.1">12</text>
<text x="537.40" y="376.80" font-size="6.7" text-anchor="end" fill="#1c1c1c" stroke="#1c1c1c" stroke-width="0.1">10</text>
<text x="537.40" y="392.10" font-size="6.7" text-anchor="end" fill="#1c1c1c" stroke="#1c1c1c" stroke-width="0.1">8</text>
<text x="537.40" y="407.40" font-size="6.7" text-anchor="end" fill="#1c1c1c" stroke="#1c1c1c" stroke-width="0.1">6</text>
<text x="537.40" y="422.70" font-size="6.7" text-anchor="end" fill="#1c1c1c" stroke="#1c1c1c" stroke-width="0.1">4</text>
<text x="537.40" y="438.00" font-size="6.7" text-anchor="end" fill="#1c1c1c" stroke="#1c1c1c" stroke-width="0.1">2</text>
<text x="537.40" y="453.30" font-size="6.7" text-anchor="end" fill="#1c1c1c" stroke="#1c1c1c" stroke-width="0.1">0</text>
<text x="537.40" y="468.60" font-size="6.7" text-anchor="end" fill="#1c1c1c" stroke="#1c1c1c" stroke-width="0.1">−2</text>
<text x="537.40" y="483.90" font-size="6.7" text-anchor="end" fill="#1c1c1c" stroke="#1c1c1c" stroke-width="0.1">−4</text>
<text x="537.40" y="499.20" font-size="6.7" text-anchor="end" fill="#1c1c1c" stroke="#1c1c1c" stroke-width="0.1">−6</text>
<text x="537.40" y="514.50" font-size="6.7" text-anchor="end" fill="#1c1c1c" stroke="#1c1c1c" stroke-width="0.1">−8</text>
<text transform="translate(513.9,409.3) rotate(-90)" font-size="7.8" text-anchor="middle" fill="#1c1c1c" stroke="#1c1c1c" stroke-width="0.1">Log<tspan font-size="5.6" dy="1.6">2</tspan><tspan dy="-1.6"> (Fold change)</tspan></text>
<text transform="translate(523.0,411.5) rotate(-90)" font-size="7.3" text-anchor="middle" fill="#1c1c1c" stroke="#1c1c1c" stroke-width="0.1" textLength="60" lengthAdjust="spacingAndGlyphs">in response to FN-f</text>
<text x="575.80" y="331.20" font-size="7.4" text-anchor="start" fill="#1c1c1c" stroke="#1c1c1c" stroke-width="0.1" textLength="26.00" lengthAdjust="spacingAndGlyphs">p−value</text>
<text x="577.20" y="339.40" font-size="7.4" text-anchor="start" fill="#1c1c1c" stroke="#1c1c1c" stroke-width="0.1" textLength="23.40" lengthAdjust="spacingAndGlyphs">0.0083</text>
<text x="615.50" y="331.20" font-size="7.4" text-anchor="start" fill="#1c1c1c" stroke="#1c1c1c" stroke-width="0.1" textLength="26.00" lengthAdjust="spacingAndGlyphs">p−value</text>
<text x="619.00" y="339.40" font-size="7.4" text-anchor="start" fill="#1c1c1c" stroke="#1c1c1c" stroke-width="0.1" textLength="18.80" lengthAdjust="spacingAndGlyphs">0.019</text>
<circle cx="582.3" cy="355.7" r="1.2" fill="#c2c2c2"/>
<circle cx="578.6" cy="369.1" r="1.2" fill="#c2c2c2"/>
<circle cx="587.7" cy="368.8" r="1.2" fill="#c2c2c2"/>
<circle cx="579" cy="377.9" r="1.2" fill="#c2c2c2"/>
<circle cx="592.3" cy="378.6" r="1.2" fill="#c2c2c2"/>
<circle cx="597.5" cy="376" r="1.2" fill="#c2c2c2"/>
<circle cx="594.4" cy="388.7" r="1.2" fill="#c2c2c2"/>
<circle cx="584.2" cy="420.6" r="1.2" fill="#c2c2c2"/>
<circle cx="592.6" cy="429.2" r="1.2" fill="#c2c2c2"/>
<circle cx="596.5" cy="429.2" r="1.2" fill="#c2c2c2"/>
<circle cx="589.5" cy="433.5" r="1.2" fill="#c2c2c2"/>
<circle cx="586.5" cy="436.4" r="1.2" fill="#c2c2c2"/>
<circle cx="581.3" cy="438.4" r="1.2" fill="#c2c2c2"/>
<circle cx="580.8" cy="442.6" r="1.2" fill="#c2c2c2"/>
<circle cx="586.5" cy="441.7" r="1.2" fill="#c2c2c2"/>
<circle cx="580.3" cy="445.3" r="1.2" fill="#c2c2c2"/>
<circle cx="587" cy="445.3" r="1.2" fill="#c2c2c2"/>
<circle cx="597.8" cy="445.8" r="1.2" fill="#c2c2c2"/>
<circle cx="580.5" cy="451.2" r="1.2" fill="#c2c2c2"/>
<circle cx="587.5" cy="451.2" r="1.2" fill="#c2c2c2"/>
<circle cx="593" cy="451.2" r="1.2" fill="#c2c2c2"/>
<circle cx="597" cy="451.6" r="1.2" fill="#c2c2c2"/>
<circle cx="580.2" cy="453.8" r="1.2" fill="#c2c2c2"/>
<circle cx="594" cy="454.2" r="1.2" fill="#c2c2c2"/>
<circle cx="597.5" cy="454.2" r="1.2" fill="#c2c2c2"/>
<circle cx="585.4" cy="458.9" r="1.2" fill="#c2c2c2"/>
<circle cx="590.1" cy="459.3" r="1.2" fill="#c2c2c2"/>
<circle cx="596.6" cy="458" r="1.2" fill="#c2c2c2"/>
<circle cx="594.3" cy="462.1" r="1.2" fill="#c2c2c2"/>
<circle cx="587.3" cy="464" r="1.2" fill="#c2c2c2"/>
<circle cx="578.9" cy="465.9" r="1.2" fill="#c2c2c2"/>
<circle cx="583.1" cy="465.7" r="1.2" fill="#c2c2c2"/>
<circle cx="589.2" cy="467" r="1.2" fill="#c2c2c2"/>
<circle cx="589.2" cy="477.6" r="1.2" fill="#c2c2c2"/>
<circle cx="582.9" cy="482.2" r="1.2" fill="#c2c2c2"/>
<circle cx="629.6" cy="429.0" r="1.2" fill="#c2c2c2"/>
<circle cx="622.2" cy="432.8" r="1.2" fill="#c2c2c2"/>
<circle cx="624" cy="435.7" r="1.2" fill="#c2c2c2"/>
<circle cx="637.6" cy="435.6" r="1.2" fill="#c2c2c2"/>
<circle cx="619.6" cy="438.8" r="1.2" fill="#c2c2c2"/>
<circle cx="620.9" cy="440.2" r="1.2" fill="#c2c2c2"/>
<circle cx="636.2" cy="442.8" r="1.2" fill="#c2c2c2"/>
<circle cx="623.1" cy="447.9" r="1.2" fill="#c2c2c2"/>
<circle cx="625.9" cy="447.9" r="1.2" fill="#c2c2c2"/>
<circle cx="634.1" cy="448.8" r="1.2" fill="#c2c2c2"/>
<circle cx="618.4" cy="460" r="1.2" fill="#c2c2c2"/>
<circle cx="631" cy="457.7" r="1.2" fill="#c2c2c2"/>
<circle cx="636" cy="462.9" r="1.2" fill="#c2c2c2"/>
<circle cx="638" cy="466.1" r="1.2" fill="#c2c2c2"/>
<circle cx="623.8" cy="466.1" r="1.2" fill="#c2c2c2"/>
<circle cx="622.6" cy="472.1" r="1.2" fill="#c2c2c2"/>
<line x1="538.50" y1="451.10" x2="670.00" y2="451.10" stroke="#666" stroke-width="1.1" stroke-dasharray="3.4,3.4"/>
<line x1="589.10" y1="372.60" x2="589.10" y2="507.50" stroke="#c9a13a" stroke-width="1.3"/>
<line x1="583.20" y1="372.60" x2="594.80" y2="372.60" stroke="#c9a13a" stroke-width="1.3"/>
<line x1="583.20" y1="507.50" x2="594.80" y2="507.50" stroke="#c9a13a" stroke-width="1.3"/>
<rect x="578.8" y="423.0" width="20.6" height="33.5" fill="#f6d88b" stroke="#c49a2e" stroke-width="1.2"/>
<line x1="589.10" y1="423.50" x2="589.10" y2="456.00" stroke="#d2ab48" stroke-width="1.2"/>
<line x1="578.30" y1="448.50" x2="599.90" y2="448.50" stroke="#b08a14" stroke-width="2.7"/>
<circle cx="592.6" cy="429.2" r="1.15" fill="#a88a40" fill-opacity="0.28"/>
<circle cx="596.5" cy="429.2" r="1.15" fill="#a88a40" fill-opacity="0.28"/>
<circle cx="589.5" cy="433.5" r="1.15" fill="#a88a40" fill-opacity="0.28"/>
<circle cx="586.5" cy="436.4" r="1.15" fill="#a88a40" fill-opacity="0.28"/>
<circle cx="581.3" cy="438.4" r="1.15" fill="#a88a40" fill-opacity="0.28"/>
<circle cx="580.8" cy="442.6" r="1.15" fill="#a88a40" fill-opacity="0.28"/>
<circle cx="586.5" cy="441.7" r="1.15" fill="#a88a40" fill-opacity="0.28"/>
<circle cx="580.3" cy="445.3" r="1.15" fill="#a88a40" fill-opacity="0.28"/>
<circle cx="587" cy="445.3" r="1.15" fill="#a88a40" fill-opacity="0.28"/>
<circle cx="597.8" cy="445.8" r="1.15" fill="#a88a40" fill-opacity="0.28"/>
<circle cx="580.5" cy="451.6" r="1.15" fill="#a88a40" fill-opacity="0.28"/>
<circle cx="587.5" cy="451.6" r="1.15" fill="#a88a40" fill-opacity="0.28"/>
<circle cx="593" cy="451.6" r="1.15" fill="#a88a40" fill-opacity="0.28"/>
<circle cx="597" cy="451.8" r="1.15" fill="#a88a40" fill-opacity="0.28"/>
<circle cx="580.2" cy="453.8" r="1.15" fill="#a88a40" fill-opacity="0.28"/>
<circle cx="594" cy="454.2" r="1.15" fill="#a88a40" fill-opacity="0.28"/>
<circle cx="597.5" cy="454.2" r="1.15" fill="#a88a40" fill-opacity="0.28"/>
<line x1="628.50" y1="440.80" x2="628.50" y2="465.30" stroke="#3d62a0" stroke-width="1.2"/>
<line x1="623.20" y1="440.80" x2="634.30" y2="440.80" stroke="#4a6eaa" stroke-width="1.2"/>
<line x1="623.20" y1="465.30" x2="634.30" y2="465.30" stroke="#3d62a0" stroke-width="1.2"/>
<rect x="618.3" y="449.8" width="21.4" height="6.6" fill="#214a8e" stroke="#1f4489" stroke-width="0.6"/>
<line x1="619.00" y1="455.00" x2="639.00" y2="455.00" stroke="#4c70aa" stroke-width="0.8"/>
<circle cx="621.5" cy="454.6" r="0.8" fill="#fff" fill-opacity="0.35"/>
<circle cx="624.5" cy="454.6" r="0.8" fill="#fff" fill-opacity="0.35"/>
<circle cx="627.5" cy="454.6" r="0.8" fill="#fff" fill-opacity="0.35"/>
<circle cx="633.5" cy="454.6" r="0.8" fill="#fff" fill-opacity="0.35"/>
<circle cx="637.5" cy="454.6" r="0.8" fill="#fff" fill-opacity="0.35"/>
<text x="554.00" y="354.10" font-size="7.7" text-anchor="start" fill="#a8831a" stroke="#a8831a" stroke-width="0.12" font-style="italic" textLength="15.30" lengthAdjust="spacingAndGlyphs">IL1A</text>
<path d="M571.40,351.40 L586.50,355.00" fill="none" stroke="#b48c1c" stroke-width="0.6"/>
<circle cx="586.5" cy="355.0" r="1.35" fill="#9c7510"/>
<text x="545.70" y="365.90" font-size="7.7" text-anchor="start" fill="#a8831a" stroke="#a8831a" stroke-width="0.12" font-style="italic" textLength="23.60" lengthAdjust="spacingAndGlyphs">CXCL8</text>
<path d="M571.40,363.20 L597.50,361.20" fill="none" stroke="#b48c1c" stroke-width="0.6"/>
<circle cx="597.5" cy="361.2" r="1.35" fill="#9c7510"/>
<text x="545.90" y="378.50" font-size="7.7" text-anchor="start" fill="#a8831a" stroke="#a8831a" stroke-width="0.12" font-style="italic" textLength="23.40" lengthAdjust="spacingAndGlyphs">CXCL2</text>
<path d="M571.40,375.80 L574.30,375.80 L584.00,384.40" fill="none" stroke="#b48c1c" stroke-width="0.6"/>
<circle cx="584.0" cy="384.4" r="1.35" fill="#9c7510"/>
<text x="554.80" y="390.80" font-size="7.7" text-anchor="start" fill="#a8831a" stroke="#a8831a" stroke-width="0.12" font-style="italic" textLength="14.50" lengthAdjust="spacingAndGlyphs">IL11</text>
<path d="M571.40,388.20 L574.30,388.20 L594.40,396.80" fill="none" stroke="#b48c1c" stroke-width="0.6"/>
<circle cx="594.4" cy="396.8" r="1.35" fill="#9c7510"/>
<text x="543.60" y="402.60" font-size="7.7" text-anchor="start" fill="#a8831a" stroke="#a8831a" stroke-width="0.12" font-style="italic" textLength="25.70" lengthAdjust="spacingAndGlyphs">MMP12</text>
<path d="M571.40,400.10 L575.50,400.00 L579.00,397.70" fill="none" stroke="#b48c1c" stroke-width="0.6"/>
<circle cx="579.0" cy="397.7" r="1.35" fill="#9c7510"/>
<text x="543.60" y="414.80" font-size="7.7" text-anchor="start" fill="#a8831a" stroke="#a8831a" stroke-width="0.12" font-style="italic" textLength="25.70" lengthAdjust="spacingAndGlyphs">MMP13</text>
<path d="M571.40,412.20 L574.00,412.20 L596.30,419.70" fill="none" stroke="#b48c1c" stroke-width="0.6"/>
<circle cx="596.3" cy="419.7" r="1.35" fill="#9c7510"/>
<text x="655.70" y="460.90" font-size="7.7" text-anchor="start" fill="#244a8b" stroke="#244a8b" stroke-width="0.1" font-style="italic" textLength="18.40" lengthAdjust="spacingAndGlyphs">PEG3</text>
<path d="M653.90,458.60 L650.50,458.60 L639.50,454.30" fill="none" stroke="#24488a" stroke-width="0.6"/>
<text x="655.70" y="474.00" font-size="7.7" text-anchor="start" fill="#244a8b" stroke="#244a8b" stroke-width="0.1" font-style="italic" textLength="17.60" lengthAdjust="spacingAndGlyphs">FGL2</text>
<path d="M653.90,471.60 L650.50,471.60 L636.50,456.30" fill="none" stroke="#24488a" stroke-width="0.6"/>
<text x="655.70" y="486.90" font-size="7.7" text-anchor="start" fill="#244a8b" stroke="#244a8b" stroke-width="0.1" font-style="italic" textLength="28.80" lengthAdjust="spacingAndGlyphs">SEMA3E</text>
<path d="M653.90,484.50 L650.50,484.50 L630.50,461.00" fill="none" stroke="#24488a" stroke-width="0.6"/>
<text x="655.70" y="500.30" font-size="7.7" text-anchor="start" fill="#244a8b" stroke="#244a8b" stroke-width="0.1" font-style="italic" textLength="28.40" lengthAdjust="spacingAndGlyphs">CSRNP3</text>
<path d="M653.90,497.70 L650.40,497.70 L636.20,472.50" fill="none" stroke="#24488a" stroke-width="0.6"/>
<text x="655.70" y="512.20" font-size="7.7" text-anchor="start" fill="#244a8b" stroke="#244a8b" stroke-width="0.1" font-style="italic" textLength="13.60" lengthAdjust="spacingAndGlyphs">HLF</text>
<path d="M653.90,509.60 L651.30,509.60 L623.70,481.70" fill="none" stroke="#24488a" stroke-width="0.6"/>
<circle cx="636.2" cy="472.5" r="1.35" fill="#1f3f7f"/>
<circle cx="623.7" cy="481.7" r="1.35" fill="#1f3f7f"/>
<text x="578.40" y="525.20" font-size="8.3" text-anchor="start" fill="#a8831a" font-weight="bold" textLength="19.60" lengthAdjust="spacingAndGlyphs">Up in</text>
<text x="574.40" y="534.60" font-size="8.3" text-anchor="start" fill="#a8831a" font-weight="bold" textLength="29.60" lengthAdjust="spacingAndGlyphs">Het−KD</text>
<text x="613.00" y="525.20" font-size="8.3" text-anchor="start" fill="#244a8b" font-weight="bold" textLength="30.10" lengthAdjust="spacingAndGlyphs">Down in</text>
<text x="614.10" y="534.60" font-size="8.3" text-anchor="start" fill="#244a8b" font-weight="bold" textLength="29.60" lengthAdjust="spacingAndGlyphs">Het−KD</text>
</svg></body></html>
